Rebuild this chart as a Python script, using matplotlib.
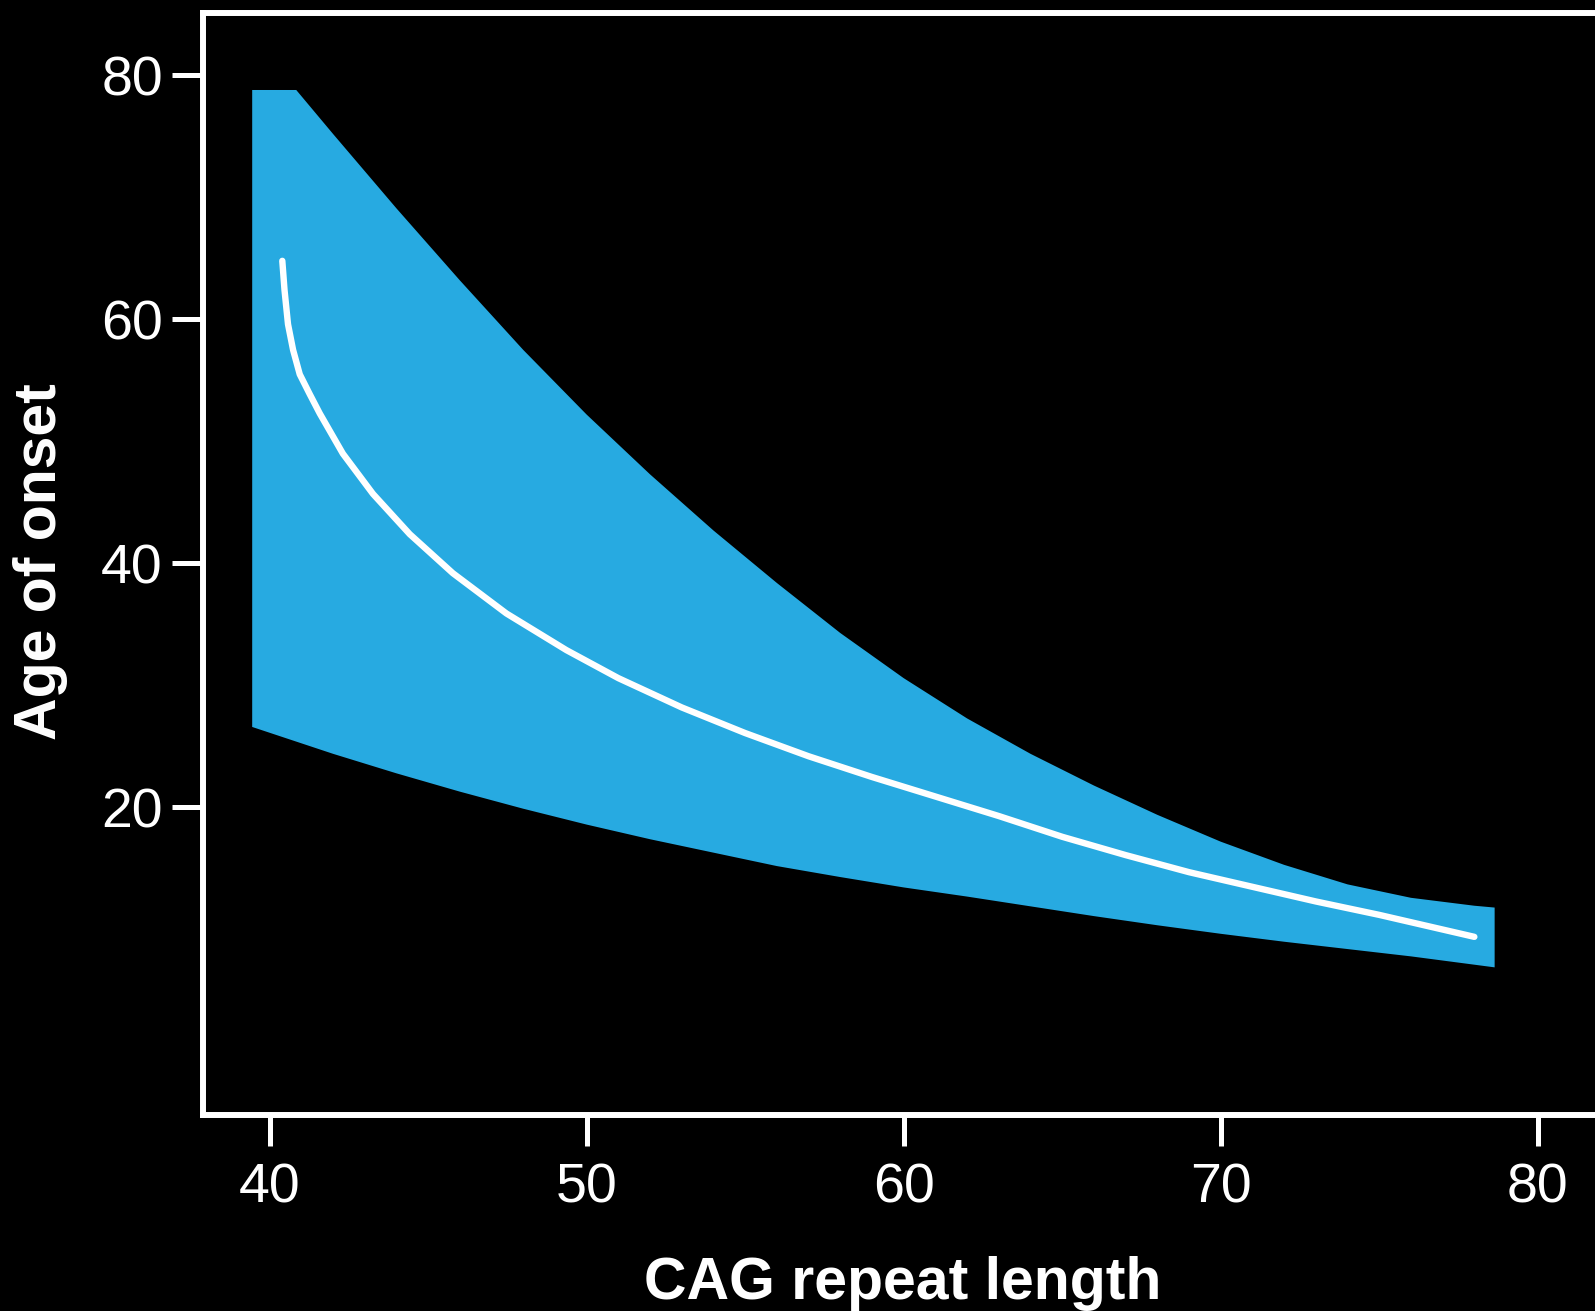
import matplotlib

matplotlib.use("Agg")
import matplotlib.pyplot as plt

# Upper edge of the shaded range (CAG repeat length, age of onset)
upper_cag = [39.45, 40.84, 42.0, 44.0, 46.0, 48.0, 50.0, 52.0, 54.0, 56.0,
             58.0, 60.0, 62.0, 64.0, 66.0, 68.0, 70.0, 72.0, 74.0, 76.0,
             78.0, 78.64]
upper_age = [78.8, 78.8, 75.2, 69.1, 63.2, 57.5, 52.2, 47.3, 42.7, 38.4,
             34.3, 30.6, 27.3, 24.4, 21.8, 19.4, 17.2, 15.3, 13.7, 12.6,
             11.95, 11.8]

# Lower edge of the shaded range
lower_cag = [39.45, 42.0, 44.0, 46.0, 48.0, 50.0, 52.0, 54.0, 56.0, 58.0,
             60.0, 62.0, 64.0, 66.0, 68.0, 70.0, 72.0, 74.0, 76.0, 78.64]
lower_age = [26.6, 24.4, 22.8, 21.3, 19.9, 18.6, 17.4, 16.3, 15.2, 14.3,
             13.45, 12.7, 11.9, 11.1, 10.35, 9.65, 9.0, 8.4, 7.8, 6.9]

# Mean age of onset
mean_cag = [40.40, 40.47, 40.58, 40.74, 40.95, 41.26, 41.58, 42.31, 43.26,
            44.42, 45.78, 47.47, 49.36, 51.0, 53.0, 55.0, 57.0, 59.0, 61.0,
            63.0, 65.0, 67.0, 69.0, 71.0, 73.0, 75.0, 78.0]
mean_age = [64.8, 62.4, 59.6, 57.5, 55.5, 53.9, 52.3, 49.0, 45.7,
            42.4, 39.2, 35.9, 32.9, 30.6, 28.2, 26.1, 24.2, 22.5, 20.9,
            19.3, 17.6, 16.1, 14.7, 13.5, 12.3, 11.2, 9.4]

x_ticks = [40, 50, 60, 70, 80]
y_ticks = [20, 40, 60, 80]

BAND = "#27aae1"
FG = "white"

plt.rcParams["font.family"] = ["Liberation Sans", "DejaVu Sans"]

fig = plt.figure(figsize=(15.95, 13.11), dpi=100, facecolor="black")
# axes run past the right edge of the figure, so the right spine is cut off
ax = fig.add_axes([0.1273, 0.1495, 0.8865, 0.8405], facecolor="black")

# closed outline: along the top edge, then back along the bottom edge
band_x = upper_cag + lower_cag[::-1]
band_y = upper_age + lower_age[::-1]
ax.fill(band_x, band_y, color=BAND, lw=0)
ax.plot(mean_cag, mean_age, color=FG, lw=4.6, solid_capstyle="round",
        solid_joinstyle="round")

ax.set_xlim(37.9, 82.5)
ax.set_ylim(-5.2, 85.1)
ax.set_xticks(x_ticks)
ax.set_yticks(y_ticks)

for side in ("left", "bottom", "top", "right"):
    ax.spines[side].set_color(FG)
    ax.spines[side].set_linewidth(4.3)

ax.tick_params(colors=FG, length=22, width=3.6, labelsize=40, direction="out")
ax.tick_params(axis="y", pad=7)
ax.tick_params(axis="x", pad=12)

ax.set_xlabel("CAG repeat length", color=FG, fontsize=42.5, fontweight="bold")
ax.set_ylabel("Age of onset", color=FG, fontsize=42.5, fontweight="bold")
ax.xaxis.set_label_coords(0.495, -0.128)
ax.yaxis.set_label_coords(-0.0955, 0.502)

fig.savefig("out.png", dpi=100, facecolor="black")
